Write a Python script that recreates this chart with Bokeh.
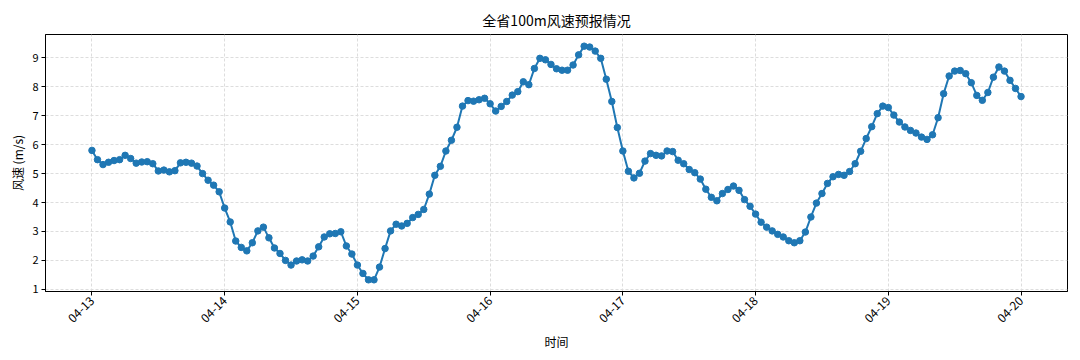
import numpy as np
import pandas as pd
from bokeh.plotting import figure
from bokeh.models import FixedTicker, DatetimeTickFormatter, Range1d
from bokeh.embed import file_html
from bokeh.resources import INLINE

title_text = "全省100m风速预报情况"
x_label = "时间"
y_label = "风速 (m/s)"
start_time = "2024-04-13 00:00"
tick_days = ["2024-04-13", "2024-04-14", "2024-04-15", "2024-04-16",
             "2024-04-17", "2024-04-18", "2024-04-19", "2024-04-20"]
y_ticks = [1, 2, 3, 4, 5, 6, 7, 8, 9]

wind_speed = [
    5.80, 5.48, 5.31, 5.39, 5.45, 5.48, 5.63, 5.52, 5.36, 5.40, 5.41, 5.34,
    5.09, 5.12, 5.06, 5.10, 5.37, 5.39, 5.36, 5.26, 5.00, 4.77, 4.60, 4.37,
    3.81, 3.33, 2.67, 2.45, 2.33, 2.61, 3.02, 3.15, 2.78, 2.43, 2.24, 2.00,
    1.84, 1.98, 2.02, 1.98, 2.15, 2.47, 2.81, 2.92, 2.93, 2.99, 2.50, 2.22,
    1.84, 1.55, 1.33, 1.33, 1.77, 2.41, 3.02, 3.25, 3.19, 3.28, 3.48, 3.59,
    3.76, 4.29, 4.94, 5.25, 5.78, 6.15, 6.60, 7.33, 7.52, 7.50, 7.55, 7.60,
    7.41, 7.16, 7.32, 7.49, 7.71, 7.83, 8.17, 8.07, 8.63, 8.98, 8.93, 8.77,
    8.62, 8.57, 8.57, 8.75, 9.10, 9.40, 9.37, 9.23, 8.98, 8.26, 7.49, 6.59,
    5.78, 5.08, 4.85, 5.01, 5.43, 5.69, 5.63, 5.61, 5.78, 5.76, 5.46, 5.34,
    5.14, 5.03, 4.81, 4.46, 4.18, 4.06, 4.31, 4.45, 4.57, 4.42, 4.10, 3.87,
    3.60, 3.32, 3.15, 3.02, 2.90, 2.81, 2.68, 2.61, 2.68, 2.98, 3.50, 3.98,
    4.31, 4.66, 4.89, 4.97, 4.94, 5.07, 5.34, 5.77, 6.21, 6.62, 7.07, 7.33,
    7.28, 7.02, 6.78, 6.61, 6.49, 6.40, 6.26, 6.18, 6.34, 6.93, 7.76, 8.37,
    8.54, 8.56, 8.45, 8.14, 7.70, 7.53, 7.80, 8.33, 8.68, 8.54, 8.22, 7.94,
    7.66,
]

times = pd.date_range(start_time, periods=len(wind_speed), freq="h")
tick_ms = [pd.Timestamp(d).value // 10**6 for d in tick_days]

t0 = times[0].value // 10**6
t1 = times[-1].value // 10**6
pad = (t1 - t0) * 0.05
ymin, ymax = min(wind_speed), max(wind_speed)
ypad = (ymax - ymin) * 0.05

FONT = "Noto Sans CJK SC"

p = figure(width=1073, height=356, x_axis_type="datetime",
           output_backend="svg", toolbar_location=None,
           x_range=Range1d(t0 - pad, t1 + pad),
           y_range=Range1d(ymin - ypad, ymax + ypad),
           min_border_left=45, min_border_right=6,
           min_border_top=34, min_border_bottom=65)

p.title.text = title_text
p.title.align = "center"
p.title.text_font = FONT
p.title.text_font_size = "14px"
p.title.text_font_style = "normal"
p.title.text_color = "black"

p.line(times, wind_speed, line_color="#1f77b4", line_width=2)
p.scatter(times, wind_speed, size=6.5, fill_color="#1f77b4", line_color="#1f77b4")

p.xaxis.ticker = FixedTicker(ticks=tick_ms)
p.xaxis.formatter = DatetimeTickFormatter(days="%m-%d", months="%m-%d",
                                          hours="%m-%d", years="%m-%d")
p.xaxis.major_label_orientation = np.pi / 4
p.yaxis.ticker = FixedTicker(ticks=y_ticks)

p.xaxis.axis_label = x_label
p.yaxis.axis_label = y_label
for ax in (p.xaxis, p.yaxis):
    ax.axis_label_text_font = FONT
    ax.axis_label_text_font_size = "12px"
    ax.axis_label_text_font_style = "normal"
    ax.axis_label_text_color = "black"
    ax.major_label_text_font = FONT
    ax.major_label_text_font_size = "11px"
    ax.major_label_text_color = "black"
    ax.axis_line_color = "black"
    ax.major_tick_line_color = "black"
    ax.major_tick_out = 4
    ax.major_tick_in = 0
    ax.minor_tick_line_color = None
    ax.axis_label_standoff = 3
    ax.major_label_standoff = 3
p.xaxis.major_label_text_font_size = "12px"

p.xgrid.grid_line_color = "#dddddd"
p.ygrid.grid_line_color = "#dddddd"
p.xgrid.grid_line_dash = "3 2"
p.ygrid.grid_line_dash = "3 2"
p.outline_line_color = "black"
p.outline_line_width = 1
p.background_fill_color = "white"
p.border_fill_color = "white"

open("out.html", "w").write(file_html(p, INLINE))
